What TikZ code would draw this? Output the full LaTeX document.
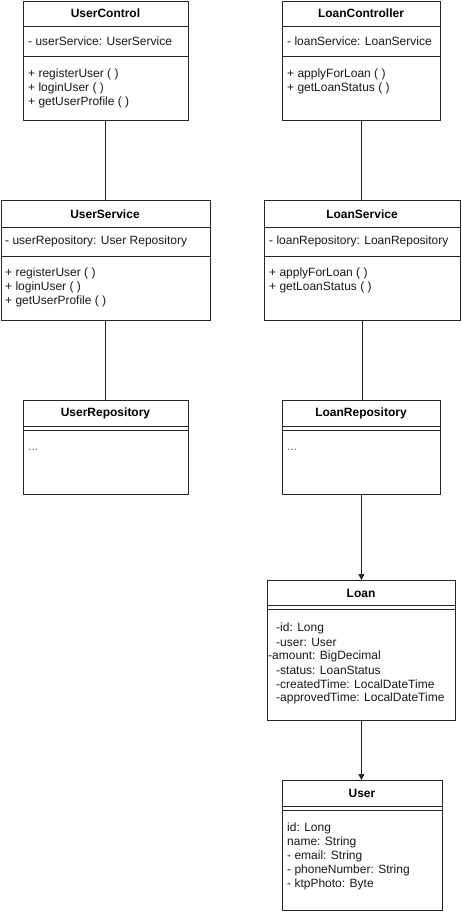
\documentclass[tikz,border=0pt]{standalone}
\usepackage{fontspec}
\setmainfont{Liberation Sans}
\usetikzlibrary{arrows.meta}
\begin{document}
\begin{tikzpicture}[x=1pt,y=-1pt,
  box/.style={draw=black!85, line width=0.8pt, anchor=north west, inner sep=0pt, fill=white},
  sep/.style={draw=black!85, line width=0.8pt},
  ttl/.style={font=\fontsize{12}{14}\selectfont\bfseries, inner sep=0pt},
  txt/.style={font=\fontsize{12}{14}\selectfont, anchor=west, inner sep=0pt, text=black!90},
  conn/.style={draw=black!85, line width=0.9pt},
  arr/.style={conn, -{Triangle[width=6pt,length=6pt]}}]
\useasboundingbox (0,0) rectangle (462,914);
\fill[white] (0,0) rectangle (462,914);

% boxes
\node[box, minimum width=165pt, minimum height=119.5pt] (uc) at (23,0.5) {};
\node[box, minimum width=158pt, minimum height=119.5pt] (lc) at (282,0.5) {};
\node[box, minimum width=209.5pt, minimum height=120pt] (us) at (0.5,200) {};
\node[box, minimum width=196pt, minimum height=120pt] (ls) at (264,200) {};
\node[box, minimum width=165pt, minimum height=94pt] (ur) at (23,400) {};
\node[box, minimum width=158pt, minimum height=94pt] (lr) at (282,400) {};
\node[box, minimum width=188pt, minimum height=140pt] (loan) at (267,580) {};
\node[box, minimum width=160pt, minimum height=130pt] (user) at (282,780) {};

% separators
\draw[sep] (23,26) -- (188,26);  \draw[sep] (23,56) -- (188,56);
\draw[sep] (282,26) -- (440,26); \draw[sep] (282,56) -- (440,56);
\draw[sep] (0.5,227) -- (210,227); \draw[sep] (0.5,256) -- (210,256);
\draw[sep] (264,227) -- (460,227); \draw[sep] (264,256) -- (460,256);
\draw[sep] (23,426) -- (188,426); \draw[sep] (23,430) -- (188,430);
\draw[sep] (282,426) -- (440,426); \draw[sep] (282,430) -- (440,430);
\draw[sep] (267,605) -- (455,605); \draw[sep] (267,609) -- (455,609);
\draw[sep] (282,806) -- (442,806); \draw[sep] (282,810) -- (442,810);

% UserControl
\node[ttl] (uct) at (105.5,13.5) {UserControl};
\node[txt] (uca) at (28,41) {- userService: UserService};
\node[txt] (ucm1) at (28,74) {+ registerUser ( )};
\node[txt] (ucm2) at (28,88) {+ loginUser ( )};
\node[txt] (ucm3) at (28,102) {+ getUserProfile ( )};

% LoanController
\node[ttl] (lct) at (361,13.5) {LoanController};
\node[txt] (lca) at (287,41) {- loanService: LoanService};
\node[txt] (lcm1) at (287,74) {+ applyForLoan ( )};
\node[txt] (lcm2) at (287,88) {+ getLoanStatus ( )};

% UserService
\node[ttl] (ust) at (105,214) {UserService};
\node[txt] (usa) at (5,241) {- userRepository: User Repository};
\node[txt] (usm1) at (5,273) {+ registerUser ( )};
\node[txt] (usm2) at (5,287) {+ loginUser ( )};
\node[txt] (usm3) at (5,301) {+ getUserProfile ( )};

% LoanService
\node[ttl] (lst) at (362,214) {LoanService};
\node[txt] (lsa) at (269,241) {- loanRepository: LoanRepository};
\node[txt] (lsm1) at (269,273) {+ applyForLoan ( )};
\node[txt] (lsm2) at (269,287) {+ getLoanStatus ( )};

% Repositories
\node[ttl] (urt) at (105.5,413.5) {UserRepository};
\node[txt, text=black!60] (urd) at (28,450) {...};
\node[ttl] (lrt) at (361,413.5) {LoanRepository};
\node[txt, text=black!60] (lrd) at (287,450) {...};

% Loan
\node[ttl] (loant) at (361,593.5) {Loan};
\node[txt] (l1) at (276,628) {-id: Long};
\node[txt] (l2) at (276,642) {-user: User};
\node[txt] (l3) at (268,656) {-amount: BigDecimal};
\node[txt] (l4) at (276,670) {-status: LoanStatus};
\node[txt] (l5) at (276,684) {-createdTime: LocalDateTime};
\node[txt] (l6) at (276,698) {-approvedTime: LocalDateTime};

% User
\node[ttl] (usert) at (362,793.5) {User};
\node[txt] (u1) at (287,828) {id: Long};
\node[txt] (u2) at (287,842) {name: String};
\node[txt] (u3) at (287,856) {- email: String};
\node[txt] (u4) at (287,870) {- phoneNumber: String};
\node[txt] (u5) at (287,884) {- ktpPhoto: Byte};

% connectors
\draw[conn] (uc.south) -- (uc.south |- us.north);
\draw[conn] (us.south) -- (us.south |- ur.north);
\draw[conn] (lc.south) -- (lc.south |- ls.north);
\draw[conn] (ls.south) -- (ls.south |- lr.north);
\draw[arr] (lr.south) -- (loan.north);
\draw[arr] (loan.south) -- (loan.south |- user.north);
\end{tikzpicture}
\end{document}
